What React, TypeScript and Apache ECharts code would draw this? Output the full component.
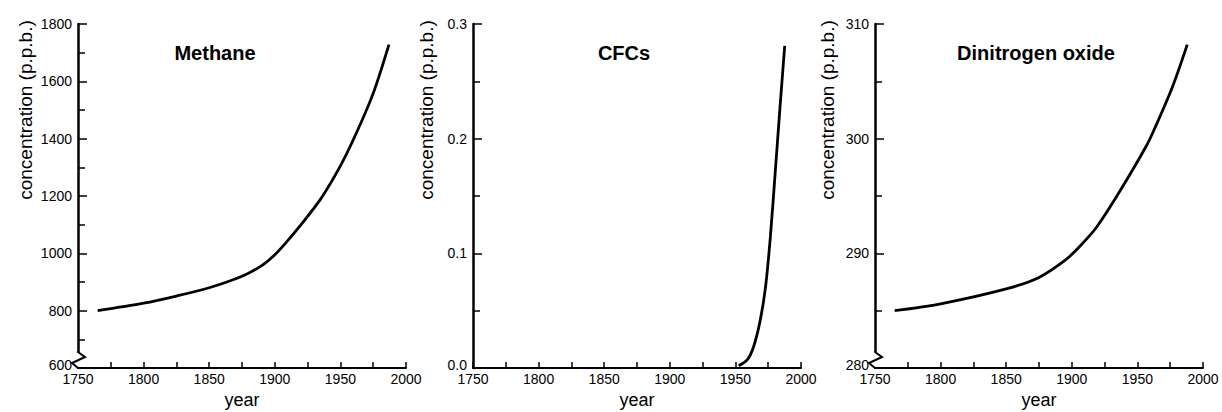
import React, { useEffect, useRef } from 'react';
import * as echarts from 'echarts';

// ---- data ----
const titles = ['Methane', 'CFCs', 'Dinitrogen oxide'];
const yAxisName = 'concentration (p.p.b.)';
const xAxisName = 'year';

const xMin = 1750;
const xMax = 2000;
const xInterval = 50;

const yMins = [600, 0, 280];
const yMaxs = [1800, 0.3, 310];
const yIntervals = [200, 0.1, 10];
const yDecimals = [0, 1, 0];

const methaneYears = [1765, 1800, 1825, 1850, 1875, 1890, 1900, 1910, 1920, 1935, 1950, 1962, 1975, 1987];
const methaneValues = [800, 826, 851, 880, 920, 957, 995, 1045, 1100, 1190, 1305, 1418, 1558, 1728];

const cfcYears = [1952.5, 1959, 1964, 1969, 1973, 1976.7, 1980.5, 1984.3, 1987.6];
const cfcValues = [0.002, 0.007, 0.019, 0.042, 0.071, 0.115, 0.173, 0.232, 0.281];

const n2oYears = [1765, 1800, 1850, 1875, 1895, 1906, 1919, 1936, 1957, 1964, 1977, 1988];
const n2oValues = [285, 285.6, 286.9, 287.9, 289.4, 290.6, 292.3, 295.3, 299.4, 301.1, 304.6, 308.2];

const seriesYears = [methaneYears, cfcYears, n2oYears];
const seriesValues = [methaneValues, cfcValues, n2oValues];
const hasBreak = [true, false, true];

// ---- layout ----
const FONT = '"Liberation Sans", Arial, Helvetica, sans-serif';
const gridLefts = [78, 473, 875];
const gridTop = 24;
const gridWidth = 328;
const gridHeight = 344;
const titleXs = [215, 624, 1036];
const titleY = 53;
const yNameXs = [25, 426, 827];
const yNameY = 110;

export default function App() {
  const ref = useRef<HTMLDivElement>(null);

  useEffect(() => {
    if (!ref.current) return;
    const chart = echarts.init(ref.current, undefined, { renderer: 'svg' });

    const grids = gridLefts.map((l) => ({
      left: l,
      top: gridTop,
      width: gridWidth,
      height: gridHeight,
      containLabel: false,
      outerBoundsMode: 'none',
    }));

    const xAxes = gridLefts.map((_, i) => ({
      type: 'value',
      gridIndex: i,
      min: xMin,
      max: xMax,
      interval: xInterval,
      name: xAxisName,
      nameLocation: 'middle',
      nameGap: 22,
      nameTextStyle: { fontFamily: FONT, fontSize: 18, color: '#000' },
      axisLine: { show: true, lineStyle: { color: '#000', width: 2 } },
      axisTick: { show: true, inside: true, length: 6, lineStyle: { color: '#000', width: 1.5 } },
      minorTick: { show: true, splitNumber: 2, length: 6, lineStyle: { color: '#000', width: 1.5 } },
      axisLabel: {
        fontFamily: FONT,
        fontSize: 14,
        color: '#000',
        margin: 4,
        formatter: (v: number) => String(v),
      },
      splitLine: { show: false },
      minorSplitLine: { show: false },
    }));

    const yAxes = gridLefts.map((_, i) => ({
      type: 'value',
      gridIndex: i,
      min: yMins[i],
      max: yMaxs[i],
      interval: yIntervals[i],
      axisLine: { show: true, lineStyle: { color: '#000', width: 2.5 } },
      axisTick: { show: true, inside: true, length: 9, lineStyle: { color: '#000', width: 1.5 } },
      minorTick: { show: true, splitNumber: 2, length: 7, lineStyle: { color: '#000', width: 1.5 } },
      axisLabel: {
        fontFamily: FONT,
        fontSize: 14,
        color: '#000',
        margin: 6,
        formatter: (v: number) => {
          const t = v.toFixed(yDecimals[i]);
          return Math.abs(v - yMins[i]) < 1e-9 ? `{lo|${t}}` : t;
        },
        rich: {
          lo: { fontFamily: FONT, fontSize: 14, color: '#000', padding: [0, 0, 7, 0] },
        },
      },
      splitLine: { show: false },
      minorSplitLine: { show: false },
    }));

    const series = gridLefts.map((_, i) => ({
      type: 'line',
      xAxisIndex: i,
      yAxisIndex: i,
      data: seriesYears[i].map((y, k) => [y, seriesValues[i][k]]),
      showSymbol: false,
      smooth: 0.3,
      lineStyle: { color: '#000', width: 2.8 },
      silent: true,
    }));

    const graphics: any[] = [];
    gridLefts.forEach((l, i) => {
      graphics.push({
        type: 'text',
        x: yNameXs[i],
        y: yNameY,
        rotation: Math.PI / 2,
        style: {
          text: yAxisName,
          font: `19px ${FONT}`,
          fill: '#000',
          textAlign: 'center',
          textVerticalAlign: 'middle',
        },
      });
      graphics.push({
        type: 'text',
        x: titleXs[i],
        y: titleY,
        style: {
          text: titles[i],
          font: `bold 20px ${FONT}`,
          fill: '#000',
          textAlign: 'center',
          textVerticalAlign: 'middle',
        },
      });
      if (hasBreak[i]) {
        const b = gridTop + gridHeight;
        graphics.push({
          type: 'rect',
          shape: { x: l - 3, y: b - 16, width: 6, height: 15 },
          style: { fill: '#fff' },
          z: 100,
        });
        graphics.push({
          type: 'polyline',
          shape: { points: [[l, b - 17], [l, b - 16], [l + 7, b - 11], [l - 6, b - 5], [l, b]] },
          style: { stroke: '#000', lineWidth: 2, fill: 'none' },
          z: 101,
        });
      }
    });

    chart.setOption({
      animation: false,
      backgroundColor: '#fff',
      grid: grids,
      xAxis: xAxes,
      yAxis: yAxes,
      series,
      graphic: graphics,
    });

    return () => chart.dispose();
  }, []);

  return (
    <div
      ref={ref}
      style={{ position: 'fixed', left: 0, top: 0, width: 1222, height: 412, background: '#fff' }}
    />
  );
}
